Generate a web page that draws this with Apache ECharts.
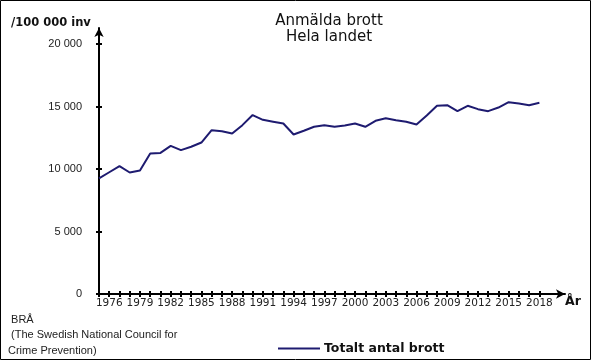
<!DOCTYPE html>
<html>
<head>
<meta charset="utf-8">
<script src="https://cdn.jsdelivr.net/npm/echarts@6/dist/echarts.min.js"></script>
<style>
html,body{margin:0;padding:0;background:#fff;}
#c{width:591px;height:360px;}
</style>
</head>
<body>
<div id="c"></div>
<script>
var years = [1975,1976,1977,1978,1979,1980,1981,1982,1983,1984,1985,1986,1987,1988,1989,1990,1991,1992,1993,1994,1995,1996,1997,1998,1999,2000,2001,2002,2003,2004,2005,2006,2007,2008,2009,2010,2011,2012,2013,2014,2015,2016,2017,2018];
var totalCrimes = [9260,9750,10240,9730,9890,11250,11300,11860,11520,11790,12130,13120,13040,12850,13520,14330,13950,13800,13650,12770,13070,13390,13520,13390,13490,13650,13390,13870,14080,13920,13790,13570,14300,15070,15120,14640,15070,14800,14640,14930,15360,15250,15120,15310];
var xLabelYears = [1976,1979,1982,1985,1988,1991,1994,1997,2000,2003,2006,2009,2012,2015,2018];
var yTickValues = [0,5000,10000,15000,20000];
var seriesName = 'Totalt antal brott';
var titleLines = ['Anmälda brott','Hela landet'];
var yUnit = '/100 000 inv';
var xName = 'År';
var sourceLines = [' BRÅ',' (The Swedish National Council for','Crime Prevention)'];

var data = years.map(function(y,i){return [y,totalCrimes[i]];});
function fmtY(v){ if(v===0) return '0'; var s=String(v); return s.slice(0,s.length-3)+' '+s.slice(-3); }

var chart = echarts.init(document.getElementById('c'), null, {renderer:'canvas'});
chart.setOption({
  animation:false,
  backgroundColor:'#fff',
  title:{
    text:titleLines.join('\n'), left:324, top:8, textAlign:'center',
    textStyle:{fontFamily:'DejaVu Sans', fontSize:15, fontWeight:'normal', color:'#111', lineHeight:16}
  },
  grid:{left:99, right:26, top:28, bottom:66, containLabel:false},
  legend:{
    left:273, top:337, itemWidth:42, itemHeight:2, icon:'rect', itemGap:10,
    data:[seriesName],
    textStyle:{fontFamily:'DejaVu Sans', fontSize:12.5, fontWeight:'bold', color:'#111', padding:[0,0,0,-1]}
  },
  xAxis:[{
    type:'value', min:1975, max:2020.5,
    axisLine:{show:true, lineStyle:{color:'#000', width:2}, symbol:['none','arrow'], symbolSize:[7,9]},
    axisTick:{show:true, length:3, inside:false, lineStyle:{color:'#000', width:2}, customValues:years},
    axisLabel:{show:true, margin:4, customValues:xLabelYears, fontFamily:'DejaVu Sans', fontSize:10.5, color:'#222', formatter:function(v){return String(v);}},
    splitLine:{show:false}
  },{
    type:'value', min:1975, max:2020.5, position:'bottom',
    axisLine:{show:false},
    axisTick:{show:true, length:3, inside:true, lineStyle:{color:'#000', width:2}, customValues:years},
    axisLabel:{show:false},
    splitLine:{show:false}
  }],
  yAxis:[{
    type:'value', min:0, max:21300,
    axisLine:{show:true, lineStyle:{color:'#000', width:2}, symbol:['none','arrow'], symbolSize:[7,9]},
    axisTick:{show:true, length:3, inside:false, lineStyle:{color:'#000', width:2}, customValues:yTickValues},
    axisLabel:{show:true, margin:17, customValues:yTickValues, fontFamily:'Liberation Sans', fontSize:11, color:'#222', formatter:fmtY},
    splitLine:{show:false}
  },{
    type:'value', min:0, max:21300, position:'left',
    axisLine:{show:false},
    axisTick:{show:true, length:3, inside:true, lineStyle:{color:'#000', width:2}, customValues:yTickValues},
    axisLabel:{show:false},
    splitLine:{show:false}
  }],
  series:[{
    name:seriesName, type:'line', data:data, showSymbol:false, symbol:'none',
    lineStyle:{color:'#1e1b70', width:2}, itemStyle:{color:'#1e1b70'}, z:5
  }],
  graphic:[
    {type:'rect', shape:{x:0.5,y:0.5,width:590,height:359}, style:{fill:null, stroke:'#000', lineWidth:1}, silent:true},
    {type:'text', left:11, top:17, style:{text:yUnit, fontFamily:'DejaVu Sans', fontSize:11.5, fontWeight:'bold', fill:'#111'}},
    {type:'text', left:565, top:295, style:{text:xName, fontFamily:'DejaVu Sans', fontSize:12.5, fontWeight:'bold', fill:'#111'}},
    {type:'text', left:8, top:312, style:{text:sourceLines.join('\n'), fontFamily:'Liberation Sans', fontSize:11, lineHeight:15.5, fill:'#222'}}
  ]
});
</script>
</body>
</html>
